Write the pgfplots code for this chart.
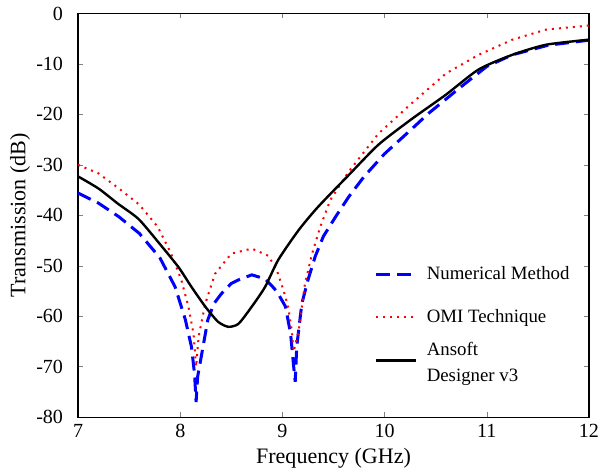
\documentclass[border=0pt]{standalone}
\usepackage{fontspec}
\setmainfont{LiberationSerif}[Extension=.ttf, UprightFont=*-Regular, BoldFont=*-Bold, ItalicFont=*-Italic, BoldItalicFont=*-BoldItalic]
\usepackage{pgfplots}
\pgfplotsset{compat=1.18}

\begin{document}
\begin{tikzpicture}
\begin{axis}[
    scale only axis,
    width=255pt, height=201.5pt,
    xmin=7, xmax=12, ymin=-80, ymax=0,
    xtick={7,8,...,12}, ytick={-80,-70,...,0},
    tick align=inside, major tick length=2.5pt,
    /pgf/number format/assume math mode=true,
    tick label style={font=\rmfamily\fontsize{10}{12}\selectfont},
    xticklabel style={inner xsep=0pt},
    yticklabel style={xshift=-4pt},
    xlabel={Frequency (GHz)}, ylabel={Transmission (dB)},
    label style={font=\rmfamily\fontsize{11}{13}\selectfont},
    xlabel style={yshift=1.5pt},
    ylabel style={inner ysep=5pt, yshift=-5.4pt},
    axis line style={line width=0.6pt},
    legend style={
        at={(rel axis cs:0.568,0.395)}, anchor=north west,
        draw=none, fill=none,
        font=\rmfamily\fontsize{9.4}{11}\selectfont,
        row sep=9.5pt,
        /tikz/every odd column/.append style={column sep=2.5pt},
        },
    legend cell align=left,
    legend image code/.code={\draw[#1] plot coordinates {(0pt,0pt) (20pt,0pt)};},
]

% Numerical Method
\addplot[color={rgb,255:red,0;green,0;blue,255}, line width=1.5pt, dash pattern=on 7pt off 3.5pt] coordinates {
(7.0,-35.6) (7.2,-37.6) (7.4,-40.3) (7.6,-43.6) (7.8,-48.4) (7.95,-54.2) (8.05,-60.7)
(8.11,-66.1) (8.14,-71.5) (8.155,-77) (8.17,-72) (8.21,-67.5) (8.27,-60.7) (8.33,-57.5)
(8.40,-55.6) (8.50,-53.5) (8.57,-52.8) (8.70,-51.8) (8.83,-52.6) (8.92,-54.5) (8.96,-55.6)
(9.03,-58.1) (9.08,-63.5) (9.11,-70) (9.125,-73) (9.14,-66) (9.19,-57.5) (9.25,-52.8)
(9.32,-48.2) (9.40,-44.2) (9.52,-40.3) (9.65,-36.3) (9.8,-32.3) (10.0,-27.8) (10.26,-23.0)
(10.43,-19.8) (10.75,-14.5) (11.0,-10.5) (11.25,-8.2) (11.6,-6.3) (12.0,-5.3)};
\addlegendentry{Numerical Method}

% OMI Technique
\addplot[color={rgb,255:red,255;green,0;blue,0}, line width=1pt, dash pattern=on 1pt off 2.5pt] coordinates {
(7.0,-30.0) (7.2,-31.7) (7.4,-34.7) (7.6,-37.9) (7.78,-42.3) (7.91,-47.6) (8.01,-52.8)
(8.08,-58.1) (8.13,-63.5) (8.155,-70) (8.18,-64) (8.245,-57.5) (8.34,-51.6) (8.50,-47.6)
(8.70,-46.6) (8.86,-48.0) (8.94,-50.6) (8.99,-53.6) (9.03,-56.2) (9.06,-58.7) (9.09,-62.7)
(9.11,-67) (9.16,-62.7) (9.19,-58.1) (9.22,-53.6) (9.29,-47.6) (9.37,-42.3) (9.47,-36.9)
(9.65,-31.3) (9.94,-23.8) (10.26,-17.9) (10.6,-11.9) (10.92,-8.2) (11.25,-5.2) (11.58,-3.2)
(12.0,-2.4)};
\addlegendentry{OMI Technique}

% Ansoft Designer v3
\addplot[color=black, line width=1.2pt, smooth, tension=0.4] coordinates {
(7.0,-32.3) (7.2,-34.7) (7.39,-37.7) (7.59,-40.7) (7.78,-45.2) (7.98,-50.2) (8.11,-54.2)
(8.245,-58.1) (8.37,-61.1) (8.47,-62.1) (8.57,-61.5) (8.70,-58.1) (8.83,-54.2) (8.96,-48.8)
(9.16,-42.9) (9.35,-38.3) (9.65,-32.0) (9.94,-26.0) (10.26,-21.0) (10.6,-16.1) (10.92,-11.1)
(11.25,-8.2) (11.58,-6.2) (12.0,-5.2)};
\addlegendentry{\rlap{\smash{\raisebox{-8pt}{Designer v3}}}\raisebox{5pt}[\height][\depth]{Ansoft}}

\end{axis}
\end{tikzpicture}
\end{document}
